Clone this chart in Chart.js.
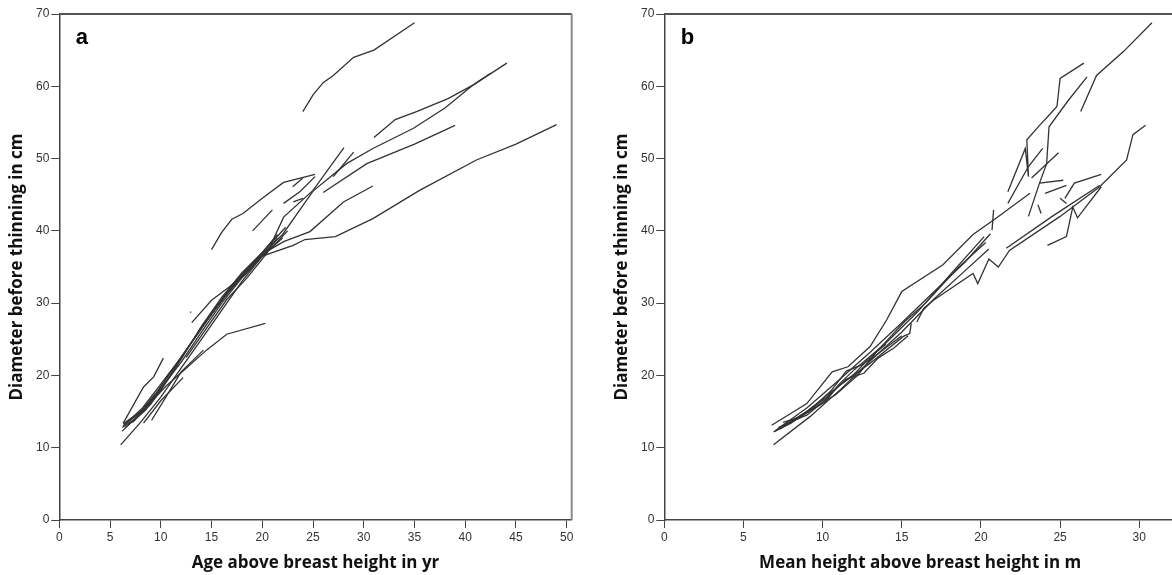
<!DOCTYPE html>
<html>
<head>
<meta charset="utf-8">
<script src="https://cdn.jsdelivr.net/npm/chart.js@4"></script>
<style>
  html, body { margin: 0; padding: 0; background: #fff; overflow: hidden; width: 1172px; height: 575px; }
  canvas { position: absolute; top: 0; }
  #chartA { left: 0; }
  #chartB { left: 605px; }
</style>
</head>
<body>
<canvas id="chartA" width="580" height="575"></canvas>
<canvas id="chartB" width="571" height="575"></canvas>
<script>
// tick labels
const yTicks = [0, 10, 20, 30, 40, 50, 60, 70];
const xTicksA = [0, 5, 10, 15, 20, 25, 30, 35, 40, 45, 50];
const xTicksB = [0, 5, 10, 15, 20, 25, 30];

// panel a: [age above breast height (yr), diameter before thinning (cm)]
const ageA01 = [[24.0,56.5],[25,58.8],[26,60.5],[27,61.5],[29,64],[31,65],[35,68.8]];
const ageA02 = [[31.0,52.9],[33.1,55.4],[35.2,56.5],[38.3,58.3],[40.8,60.2],[44.1,63.2]];
const ageA03 = [[6.3,13.0],[8.2,15.5],[10,18.8],[12,22.5],[14,26.5],[16,30.5],[18,34],[20,36.8],[22,39.5],[25,45.5],[28.3,49.3],[30.9,51.4],[34.9,54.2],[38,57],[40.8,60.2],[42.5,61.8]];
const ageA04 = [[26.0,45.3],[30.3,49.3],[35,52],[39.0,54.6]];
const ageA05 = [[6.2,12.3],[8,14.8],[10,18.2],[12,21.8],[14,26],[16,30],[18,33.5],[20,36.5],[23.05,38.0],[24.2,38.8],[27.2,39.2],[30.9,41.7],[35.5,45.6],[41.1,49.8],[45,52],[49.0,54.7]];
const ageA06 = [[6.5,12.8],[8.5,15.2],[10.5,19.5],[12.5,23.5],[14.5,27.5],[16.5,31.2],[18.5,34.5],[20.5,37.2],[22.1,38.5],[24.7,39.9],[28.0,44.0],[30.9,46.2]];
const ageA07 = [[15.0,37.4],[16,39.8],[17,41.6],[18.1,42.4],[20,44.5],[22.1,46.7],[25.2,47.8]];
const ageA08 = [[19.05,40.0],[21.0,42.9]];
const ageA09 = [[23.0,46.1],[24.0,47.3]];
const ageA10 = [[22.1,43.8],[23.7,45.4],[25.2,47.5]];
const ageA11 = [[12.5,22.5],[14.5,26.5],[16.5,30.5],[18.5,33.5],[20.5,37],[22.1,41.9],[25.0,45.6],[28.05,51.5]];
const ageA12 = [[27.0,47.5],[29.0,50.9]];
const ageA13 = [[23.05,44.0],[24.0,44.5]];
const ageA14 = [[6.3,13.4],[8.3,18.4],[9.3,19.8],[10.25,22.4]];
const ageA15 = [[6.3,13.0],[8.5,15.5],[10.5,18.5],[12.5,21],[14.5,23.5],[16.5,25.7],[20.3,27.2]];
const ageA16 = [[6.05,10.4],[8,13.5],[10,17],[12,21],[14,25],[16,29],[18,33],[20,36.5],[22,39]];
const ageA17 = [[8.3,13.4],[10,16.5],[12.2,19.7]];
const ageA18 = [[9.1,13.8],[10.5,17],[12,20.5],[14.2,23.5]];
const ageA19 = [[12.9,28.8],[13.0,28.7]];
const ageA20 = [[13.05,27.3],[15.0,30.4],[17.0,32.5],[18.3,33.9],[20,36.5],[21.5,39]];
const ageA21 = [[6.2,12.8],[7.5,14],[8.5,15.3],[10,18],[12,22.3],[14,26.8],[16,30.8],[18,34.2],[20,37],[21.5,39.5]];
const ageA22 = [[6.3,13.3],[8,15],[9.5,17.5],[11.5,21.5],[13.5,25.5],[15.5,29.5],[17.5,33],[19.5,36],[21.5,38.5],[22.5,40]];
const ageA23 = [[7.2,13.5],[9,16],[11,20],[13,24.5],[15,28.5],[17,32.5],[19,35.5],[21,38.5],[22.3,40.5]];

// panel b: [mean height above breast height (m), diameter before thinning (cm)]
const hgtB01 = [[6.78,13.1],[9.0,16.1],[10.6,20.5],[11.6,21.2],[13.0,24.0],[14.05,27.7],[15.0,31.6],[17.6,35.3],[19.5,39.5],[20.8,41.5],[23.1,45.2]];
const hgtB02 = [[6.9,10.4],[9.2,14.3],[11.1,18.0],[13,22],[15,26],[17,30.5],[19,34.5],[20.5,37.5]];
const hgtB03 = [[7.0,12.35],[9,15.5],[11,19.3],[13,23.2],[15,27.3],[17,31.5],[19,35.7],[20.6,39.6]];
const hgtB04 = [[7.2,12.8],[8,13.6],[9,14.5],[10,16.3],[11,18.5],[12,20.2],[13,22.5],[14,24.3]];
const hgtB05 = [[7.5,13.5],[8.5,14.2],[9.5,15.8],[10.5,17.8],[11.5,20.6],[12.5,21.5],[13.5,23],[15,25.5]];
const hgtB06 = [[8,13.6],[9,15],[10.3,17],[11.5,19.5],[12.6,20.3],[13.5,22.4],[14.5,23.8],[15.4,25.5]];
const hgtB07 = [[7.0,12.3],[9,15],[11,18.5],[13.0,21.7],[15.1,25.4],[15.5,25.8],[15.6,27.2]];
const hgtB08 = [[15.95,27.4],[16.4,29.3],[17,30.4],[19.5,34.1],[19.8,32.7],[20.5,36.1],[21.1,35],[21.8,37.3],[25,42],[27.5,46.1],[29.2,49.8],[29.6,53.3],[30.4,54.6]];
const hgtB09 = [[21.6,37.6],[24.5,42],[27.5,46.3]];
const hgtB10 = [[24.2,38.0],[25.4,39.2],[25.8,43.3],[26.1,41.8],[27.6,46.1]];
const hgtB11 = [[25.3,44.5],[25.9,46.6],[27.6,47.8]];
const hgtB12 = [[26.3,56.5],[27.3,61.5],[29.0,64.8],[30.8,68.8]];
const hgtB13 = [[23.0,42.0],[23.7,46.6],[24.15,49.3],[24.3,54.4],[25.5,58],[26.7,61.3]];
const hgtB14 = [[21.7,45.4],[22.8,51.4],[23.0,47.5],[22.9,52.6],[23.7,54.6],[24.3,56],[24.8,57.2],[25.0,61.1],[26.5,63.2]];
const hgtB15 = [[21.7,43.8],[23.0,48.9],[23.9,51.4]];
const hgtB16 = [[23.2,47.3],[24.9,50.8]];
const hgtB17 = [[23.7,46.6],[25.2,47.0]];
const hgtB18 = [[24.05,45.2],[25.4,46.3]];
const hgtB19 = [[23.6,43.6],[23.8,42.4]];
const hgtB20 = [[25.0,44.5],[25.4,43.8]];
const hgtB21 = [[20.8,42.9],[20.7,40.1]];
const hgtB22 = [[7.3,12.6],[9,14.8],[10.2,16.4],[11,18.7],[12,20.8],[14,24.5],[16,28.8],[18,33.8],[20.2,39.2]];
const hgtB23 = [[6.9,12.2],[8,13.4],[9.5,15.6],[10.8,17.3],[12.2,20],[13.5,23.5],[15.2,27.5],[16.5,30],[18.5,34.8],[20.3,38.4]];

const seriesA = [ageA01, ageA02, ageA03, ageA04, ageA05, ageA06, ageA07, ageA08, ageA09, ageA10, ageA11, ageA12,
  ageA13, ageA14, ageA15, ageA16, ageA17, ageA18, ageA19, ageA20, ageA21, ageA22, ageA23];
const seriesB = [hgtB01, hgtB02, hgtB03, hgtB04, hgtB05, hgtB06, hgtB07, hgtB08, hgtB09, hgtB10, hgtB11, hgtB12,
  hgtB13, hgtB14, hgtB15, hgtB16, hgtB17, hgtB18, hgtB19, hgtB20, hgtB21, hgtB22, hgtB23];

const tickFont = { family: '"Liberation Sans", Arial, sans-serif', size: 12 };
const titleFont = { family: '"Open Sans", "Noto Sans", sans-serif', size: 17, weight: 'bold' };

// top/right frame and panel letter
const framePlugin = {
  id: 'frame',
  afterDraw(chart, args, opts) {
    const { ctx, chartArea: a } = chart;
    ctx.save();
    ctx.strokeStyle = '#555';
    ctx.lineWidth = 2;
    ctx.beginPath();
    ctx.moveTo(a.left, a.top);
    ctx.lineTo(a.right, a.top);
    ctx.stroke();
    ctx.strokeStyle = '#888';
    ctx.beginPath();
    ctx.moveTo(a.right, a.top);
    ctx.lineTo(a.right, a.bottom);
    ctx.stroke();
    ctx.fillStyle = '#000';
    ctx.font = 'bold 22px "Liberation Sans", Arial, sans-serif';
    ctx.fillText(opts.letter, a.left + 16.5, a.top + 29.5);
    ctx.restore();
  }
};

function makeChart(id, series, xMax, xTicks, xTitle, letter, rightPad) {
  const ctx = document.getElementById(id).getContext('2d');
  return new Chart(ctx, {
    type: 'scatter',
    data: {
      datasets: series.map(s => ({
        data: s.map(p => ({ x: p[0], y: p[1] })),
        showLine: true,
        pointRadius: 0,
        borderColor: '#333',
        borderWidth: 1.3,
        fill: false
      }))
    },
    options: {
      responsive: false,
      animation: false,
      events: [],
      layout: { padding: { top: 14, right: rightPad, left: 0, bottom: 0 } },
      plugins: {
        legend: { display: false },
        tooltip: { enabled: false },
        frame: { letter: letter }
      },
      scales: {
        x: {
          type: 'linear',
          min: 0,
          max: xMax,
          afterFit(s) { s.height = 55; },
          afterBuildTicks(s) { s.ticks = xTicks.map(v => ({ value: v })); },
          ticks: { color: '#333', font: tickFont, padding: 2, maxRotation: 0 },
          grid: { drawOnChartArea: false, drawTicks: true, tickLength: 8, color: '#444' },
          border: { color: '#444', width: 1.5 },
          title: { display: true, text: xTitle, font: titleFont, color: '#111', padding: { top: 0, bottom: 2 } }
        },
        y: {
          type: 'linear',
          min: 0,
          max: 70,
          afterFit(s) { s.width = 59.3; },
          afterBuildTicks(s) { s.ticks = yTicks.map(v => ({ value: v })); },
          ticks: { color: '#333', font: tickFont, padding: 2 },
          grid: { drawOnChartArea: false, drawTicks: true, tickLength: 8, color: '#444' },
          border: { color: '#444', width: 1.5 },
          title: { display: true, text: 'Diameter before thinning in cm', font: titleFont, color: '#111', padding: { top: 7, bottom: 0 } }
        }
      }
    },
    plugins: [framePlugin]
  });
}

makeChart('chartA', seriesA, 50.49, xTicksA, 'Age above breast height in yr', 'a', 8.3);
makeChart('chartB', seriesB, 32.32, xTicksB, 'Mean height above breast height in m', 'b', 0);
</script>
</body>
</html>
